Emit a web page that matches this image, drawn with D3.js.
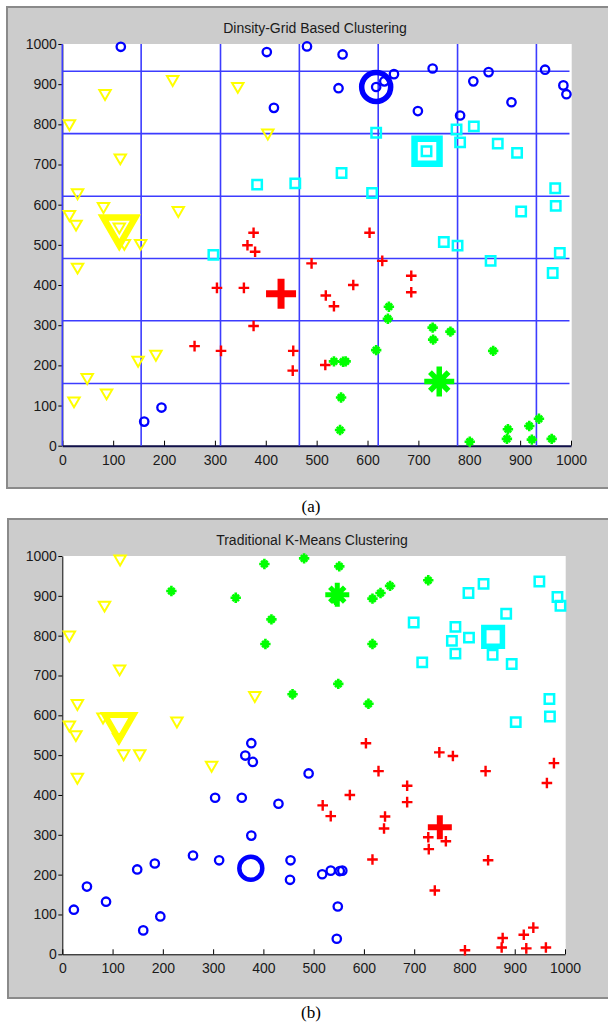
<!DOCTYPE html>
<html>
<head>
<meta charset="utf-8">
<script src="https://cdn.jsdelivr.net/npm/d3@7"></script>
<style>
  body { margin: 0; background: #fff; }
  svg { display: block; }
</style>
</head>
<body>
<div id="chart"></div>
<script>
// data points (same 100 points in both panels)
const pointX = [
  115, 402, 481, 551, 543, 617, 633, 652, 728, 416, 808, 838, 949, 985, 991, 883, 699, 782, 161, 195,
  376, 364, 379, 304, 357, 430, 490, 376, 260, 312, 454, 453, 517, 604, 629, 572, 518, 534, 686, 686,
  642, 640, 728, 729, 763, 617, 847, 741, 801, 876, 874, 918, 937, 923, 962, 534, 552, 557, 548, 546,
  775, 809, 782, 856, 894, 716, 969, 970, 902, 617, 549, 609, 458, 750, 777, 842, 978, 964, 383, 297,
  84, 14, 114, 30, 81, 14, 27, 112, 122, 154, 30, 228, 217, 345, 404, 23, 49, 87, 149, 184
];
const pointY = [
  993, 980, 994, 974, 890, 893, 907, 925, 939, 841, 907, 930, 936, 897, 875, 855, 833, 822, 60, 95,
  530, 499, 483, 393, 393, 378, 454, 298, 248, 236, 236, 187, 201, 530, 460, 400, 374, 347, 423, 382,
  346, 316, 294, 264, 284, 238, 236, 160, 10, 41, 17, 49, 67, 15, 17, 210, 209, 210, 120, 39,
  787, 795, 755, 752, 729, 733, 641, 597, 583, 779, 679, 629, 653, 507, 498, 460, 480, 430, 650, 475,
  877, 802, 717, 630, 596, 576, 552, 545, 504, 504, 445, 586, 912, 895, 779, 112, 170, 132, 213, 228
];
// cluster ids: 0 circle, 1 plus, 2 star, 3 square, 4 triangle
const clusterA = [
  0,0,0,0,0,0,0,0,0,0,0,0,0,0,0,0,0,0,0,0,
  1,1,1,1,1,1,1,1,1,1,1,1,1,1,1,1,1,1,1,1,
  2,2,2,2,2,2,2,2,2,2,2,2,2,2,2,2,2,2,2,2,
  3,3,3,3,3,3,3,3,3,3,3,3,3,3,3,3,3,3,3,3,
  4,4,4,4,4,4,4,4,4,4,4,4,4,4,4,4,4,4,4,4
];
const clusterB = [
  4,2,2,2,2,2,2,2,2,2,3,3,3,3,3,3,3,3,0,0,
  0,0,0,0,0,0,0,0,0,0,0,0,0,1,1,1,1,1,1,1,
  1,1,1,1,1,1,1,1,1,1,1,1,1,1,1,0,0,0,0,0,
  3,3,3,3,3,3,3,3,3,2,2,2,2,1,1,1,1,1,4,4,
  4,4,4,4,4,4,4,4,4,4,4,4,2,2,2,0,0,0,0,0
];
// cluster centres
const centroidAX = [617, 430, 741, 717, 112];
const centroidAY = [893, 378, 160, 733, 545];
const centroidBX = [375, 751, 547, 857, 113];
const centroidBY = [216, 319, 903, 797, 580];

const gridX = [0, 155, 311, 466, 621, 777, 932];
const gridY = [155, 311, 466, 621, 777, 932];
const tickVals = [0, 100, 200, 300, 400, 500, 600, 700, 800, 900, 1000];
const titles = ["Dinsity-Grid Based Clustering", "Traditional K-Means Clustering"];
const captions = ["(a)", "(b)"];

const colors = ["#0000ff", "#ff0000", "#00ff00", "#00ffff", "#ffff00"];

const W = 608, H = 1025;
const svg = d3.select("#chart").append("svg")
  .attr("width", W).attr("height", H);

function marker(g, type, sz, sw, color) {
  if (type === 0) {
    g.append("circle").attr("r", sz)
      .attr("fill", "none").attr("stroke", color).attr("stroke-width", sw);
    return;
  }
  let d;
  if (type === 1) {
    d = `M${-sz},0H${sz}M0,${-sz}V${sz}`;
  } else if (type === 2) {
    const k = sz * 0.62;
    d = `M${-sz},0H${sz}M0,${-sz}V${sz}M${-k},${-k}L${k},${k}M${-k},${k}L${k},${-k}`;
  } else if (type === 3) {
    d = `M${-sz},${-sz}H${sz}V${sz}H${-sz}Z`;
  } else {
    const w = sz * 0.866, h = sz / 2;
    d = `M${-w},${-h}L${w},${-h}L0,${sz}Z`;
  }
  g.append("path")
    .attr("d", d)
    .attr("fill", "none")
    .attr("stroke", color)
    .attr("stroke-width", sw);
}

// small and large marker sizes per type: [size, stroke]
const smallSize = [[4.2, 2.3], [5.3, 2.4], [5.2, 2.6], [4.7, 2.5], [6.6, 2]];
const bigSizeA = [[14.5, 5.5], [15, 7], [15, 5.5], [12.5, 6.5], [18.5, 6.5]];
const bigSizeB = [[11.5, 4.5], [12, 6], [12, 5], [9.3, 5.5], [16.5, 6]];

function buildPanel(cfg) {
  const root = svg.append("g");

  root.append("rect")
    .attr("x", cfg.frameLeft).attr("y", cfg.frameTop)
    .attr("width", W - cfg.frameLeft + 5).attr("height", cfg.frameBottom - cfg.frameTop)
    .attr("fill", "#cccccc")
    .attr("stroke", "#8a8a8a")
    .attr("stroke-width", 2);

  const x = d3.scaleLinear().domain([0, 1000]).range([cfg.left, cfg.right]);
  const y = d3.scaleLinear().domain([0, 1000]).range([cfg.bottom, cfg.top]);

  root.append("rect")
    .attr("x", cfg.left).attr("y", cfg.top)
    .attr("width", cfg.plotRight - cfg.left).attr("height", cfg.bottom - cfg.top)
    .attr("fill", "#fff");

  root.append("text")
    .attr("x", (cfg.left + cfg.plotRight) / 2 - 2)
    .attr("y", cfg.titleY)
    .attr("text-anchor", "middle")
    .attr("font-family", "Liberation Sans, Arial, sans-serif")
    .attr("font-size", 14)
    .attr("fill", "#1a1a1a")
    .text(cfg.title);

  // axes
  const fmt = d3.format("d");
  const yAxis = root.append("g")
    .attr("transform", `translate(${cfg.left},0)`)
    .call(d3.axisLeft(y).tickValues(tickVals).tickFormat(fmt)
      .tickSize(4).tickSizeOuter(0).tickPadding(1.5));
  const xAxis = root.append("g")
    .attr("transform", `translate(0,${cfg.bottom})`)
    .call(d3.axisBottom(x).tickValues(tickVals).tickFormat(fmt)
      .tickSize(-5).tickSizeOuter(0).tickPadding(9));
  [yAxis, xAxis].forEach(a => {
    a.selectAll("text")
      .attr("font-family", "Liberation Sans, Arial, sans-serif")
      .attr("font-size", 14)
      .attr("fill", "#1a1a1a");
    a.selectAll("line").attr("stroke", "#000");
    a.select(".domain").attr("stroke", "#000");
  });
  if (cfg.grid) xAxis.select(".domain").attr("stroke-width", 2).attr("stroke", "#10104a");

  if (cfg.grid) {
    const gg = root.append("g")
      .attr("stroke", "#3c3cff")
      .attr("stroke-width", 1.6);
    gg.selectAll(".gv").data(gridX).join("line")
      .attr("x1", d => x(d)).attr("x2", d => x(d))
      .attr("y1", y(0)).attr("y2", y(1000));
    gg.selectAll(".gh").data(gridY).join("line")
      .attr("x1", x(0)).attr("x2", x(997))
      .attr("y1", d => y(d)).attr("y2", d => y(d));
  }

  // points
  const pts = root.append("g");
  pointX.forEach((px, i) => {
    const c = cfg.labels[i];
    const g = pts.append("g").attr("transform", `translate(${x(px)},${y(pointY[i])})`);
    marker(g, c, smallSize[c][0], smallSize[c][1], colors[c]);
  });

  // centres
  const cen = root.append("g");
  cfg.cx.forEach((cxv, c) => {
    const g = cen.append("g").attr("transform", `translate(${x(cxv)},${y(cfg.cy[c])})`);
    marker(g, c, cfg.big[c][0], cfg.big[c][1], colors[c]);
  });

  svg.append("text")
    .attr("x", cfg.captionX)
    .attr("y", cfg.captionY)
    .attr("text-anchor", "middle")
    .attr("font-family", "Liberation Serif, Times New Roman, serif")
    .attr("font-size", 17)
    .attr("fill", "#000")
    .text(cfg.caption);
}

buildPanel({
  frameLeft: 7, frameTop: 7, frameBottom: 488,
  left: 62.3, right: 571, plotRight: 571.7, top: 44, bottom: 445.7,
  titleY: 33, title: titles[0], caption: captions[0], captionX: 311, captionY: 512,
  grid: true, labels: clusterA, cx: centroidAX, cy: centroidAY, big: bigSizeA
});
buildPanel({
  frameLeft: 8, frameTop: 519, frameBottom: 998,
  left: 62.3, right: 565, plotRight: 565.7, top: 556, bottom: 954.3,
  titleY: 545, title: titles[1], caption: captions[1], captionX: 311, captionY: 1018,
  grid: false, labels: clusterB, cx: centroidBX, cy: centroidBY, big: bigSizeB
});
</script>
</body>
</html>
